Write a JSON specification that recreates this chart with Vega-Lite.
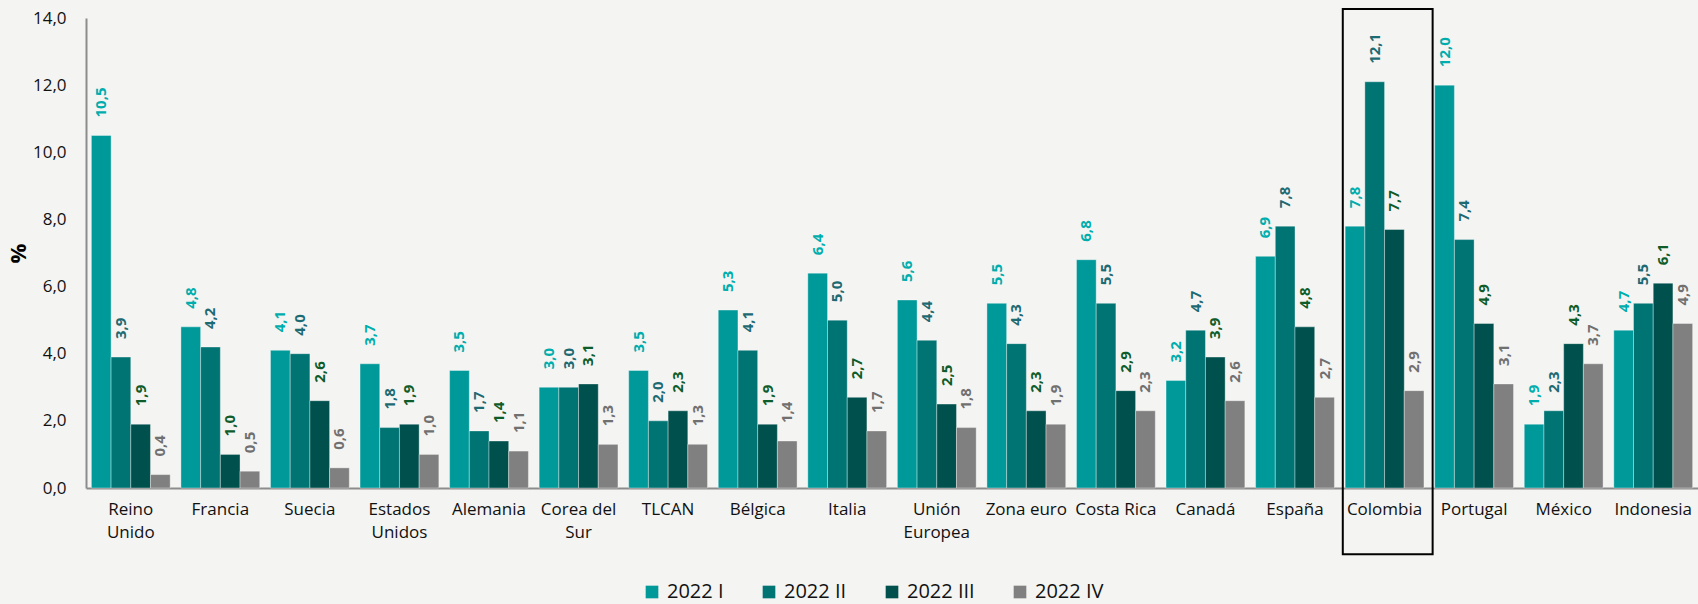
{
  "$schema": "https://vega.github.io/schema/vega-lite/v6.json",
  "width": 1612,
  "height": 470,
  "autosize": {"type": "none"},
  "padding": {"left": 86, "top": 18, "right": 0, "bottom": 116},
  "background": "#F4F4F2",
  "config": {
    "font": "Open Sans",
    "view": {"stroke": null},
    "locale": {"number": {"decimal": ",", "thousands": ".", "grouping": [3], "currency": ["$", ""]}}
  },
  "datasets": {
    "tasas": [
    {"pais": "Reino Unido", "periodo": "2022 I", "valor": 10.5},
    {"pais": "Reino Unido", "periodo": "2022 II", "valor": 3.9},
    {"pais": "Reino Unido", "periodo": "2022 III", "valor": 1.9},
    {"pais": "Reino Unido", "periodo": "2022 IV", "valor": 0.4},
    {"pais": "Francia", "periodo": "2022 I", "valor": 4.8},
    {"pais": "Francia", "periodo": "2022 II", "valor": 4.2},
    {"pais": "Francia", "periodo": "2022 III", "valor": 1.0},
    {"pais": "Francia", "periodo": "2022 IV", "valor": 0.5},
    {"pais": "Suecia", "periodo": "2022 I", "valor": 4.1},
    {"pais": "Suecia", "periodo": "2022 II", "valor": 4.0},
    {"pais": "Suecia", "periodo": "2022 III", "valor": 2.6},
    {"pais": "Suecia", "periodo": "2022 IV", "valor": 0.6},
    {"pais": "Estados Unidos", "periodo": "2022 I", "valor": 3.7},
    {"pais": "Estados Unidos", "periodo": "2022 II", "valor": 1.8},
    {"pais": "Estados Unidos", "periodo": "2022 III", "valor": 1.9},
    {"pais": "Estados Unidos", "periodo": "2022 IV", "valor": 1.0},
    {"pais": "Alemania", "periodo": "2022 I", "valor": 3.5},
    {"pais": "Alemania", "periodo": "2022 II", "valor": 1.7},
    {"pais": "Alemania", "periodo": "2022 III", "valor": 1.4},
    {"pais": "Alemania", "periodo": "2022 IV", "valor": 1.1},
    {"pais": "Corea del Sur", "periodo": "2022 I", "valor": 3.0},
    {"pais": "Corea del Sur", "periodo": "2022 II", "valor": 3.0},
    {"pais": "Corea del Sur", "periodo": "2022 III", "valor": 3.1},
    {"pais": "Corea del Sur", "periodo": "2022 IV", "valor": 1.3},
    {"pais": "TLCAN", "periodo": "2022 I", "valor": 3.5},
    {"pais": "TLCAN", "periodo": "2022 II", "valor": 2.0},
    {"pais": "TLCAN", "periodo": "2022 III", "valor": 2.3},
    {"pais": "TLCAN", "periodo": "2022 IV", "valor": 1.3},
    {"pais": "Bélgica", "periodo": "2022 I", "valor": 5.3},
    {"pais": "Bélgica", "periodo": "2022 II", "valor": 4.1},
    {"pais": "Bélgica", "periodo": "2022 III", "valor": 1.9},
    {"pais": "Bélgica", "periodo": "2022 IV", "valor": 1.4},
    {"pais": "Italia", "periodo": "2022 I", "valor": 6.4},
    {"pais": "Italia", "periodo": "2022 II", "valor": 5.0},
    {"pais": "Italia", "periodo": "2022 III", "valor": 2.7},
    {"pais": "Italia", "periodo": "2022 IV", "valor": 1.7},
    {"pais": "Unión Europea", "periodo": "2022 I", "valor": 5.6},
    {"pais": "Unión Europea", "periodo": "2022 II", "valor": 4.4},
    {"pais": "Unión Europea", "periodo": "2022 III", "valor": 2.5},
    {"pais": "Unión Europea", "periodo": "2022 IV", "valor": 1.8},
    {"pais": "Zona euro", "periodo": "2022 I", "valor": 5.5},
    {"pais": "Zona euro", "periodo": "2022 II", "valor": 4.3},
    {"pais": "Zona euro", "periodo": "2022 III", "valor": 2.3},
    {"pais": "Zona euro", "periodo": "2022 IV", "valor": 1.9},
    {"pais": "Costa Rica", "periodo": "2022 I", "valor": 6.8},
    {"pais": "Costa Rica", "periodo": "2022 II", "valor": 5.5},
    {"pais": "Costa Rica", "periodo": "2022 III", "valor": 2.9},
    {"pais": "Costa Rica", "periodo": "2022 IV", "valor": 2.3},
    {"pais": "Canadá", "periodo": "2022 I", "valor": 3.2},
    {"pais": "Canadá", "periodo": "2022 II", "valor": 4.7},
    {"pais": "Canadá", "periodo": "2022 III", "valor": 3.9},
    {"pais": "Canadá", "periodo": "2022 IV", "valor": 2.6},
    {"pais": "España", "periodo": "2022 I", "valor": 6.9},
    {"pais": "España", "periodo": "2022 II", "valor": 7.8},
    {"pais": "España", "periodo": "2022 III", "valor": 4.8},
    {"pais": "España", "periodo": "2022 IV", "valor": 2.7},
    {"pais": "Colombia", "periodo": "2022 I", "valor": 7.8},
    {"pais": "Colombia", "periodo": "2022 II", "valor": 12.1},
    {"pais": "Colombia", "periodo": "2022 III", "valor": 7.7},
    {"pais": "Colombia", "periodo": "2022 IV", "valor": 2.9},
    {"pais": "Portugal", "periodo": "2022 I", "valor": 12.0},
    {"pais": "Portugal", "periodo": "2022 II", "valor": 7.4},
    {"pais": "Portugal", "periodo": "2022 III", "valor": 4.9},
    {"pais": "Portugal", "periodo": "2022 IV", "valor": 3.1},
    {"pais": "México", "periodo": "2022 I", "valor": 1.9},
    {"pais": "México", "periodo": "2022 II", "valor": 2.3},
    {"pais": "México", "periodo": "2022 III", "valor": 4.3},
    {"pais": "México", "periodo": "2022 IV", "valor": 3.7},
    {"pais": "Indonesia", "periodo": "2022 I", "valor": 4.7},
    {"pais": "Indonesia", "periodo": "2022 II", "valor": 5.5},
    {"pais": "Indonesia", "periodo": "2022 III", "valor": 6.1},
    {"pais": "Indonesia", "periodo": "2022 IV", "valor": 4.9}
    ],
    "destacado": [{"pais": "Colombia", "arriba": 14.27, "abajo": -1.97}]
  },
  "layer": [
    {
      "data": {"name": "tasas"},
      "mark": {"type": "bar", "stroke": "#FFFFFF", "strokeWidth": 0.6, "strokeOpacity": 0.6},
      "encoding": {
        "x": {
          "field": "pais", "type": "nominal", "sort": null,
          "scale": {"paddingInner": 0.12, "paddingOuter": 0.06},
          "axis": {
            "title": null, "domainColor": "#8C8C8C", "domainWidth": 2, "ticks": false,
            "labelAngle": 0, "labelFontSize": 17, "labelColor": "#111111", "labelPadding": 13,
            "labelLineHeight": 23, "labelBaseline": "top",
            "labelExpr": "datum.value == 'Reino Unido' ? ['Reino', 'Unido'] : datum.value == 'Estados Unidos' ? ['Estados', 'Unidos'] : datum.value == 'Corea del Sur' ? ['Corea del', 'Sur'] : datum.value == 'Unión Europea' ? ['Unión', 'Europea'] : datum.value"
          }
        },
        "y": {
          "field": "valor", "type": "quantitative",
          "scale": {"domain": [0, 14], "nice": false},
          "axis": {
            "title": "%", "titleFontSize": 22, "titleFontWeight": "bold", "titleColor": "#000000",
            "titlePadding": 2, "values": [0, 2, 4, 6, 8, 10, 12, 14], "format": ".1f",
            "grid": false, "ticks": false, "domainColor": "#8C8C8C", "domainWidth": 2,
            "labelFontSize": 17, "labelColor": "#111111", "labelPadding": 20
          }
        },
        "xOffset": {"field": "periodo", "type": "nominal", "sort": ["2022 I", "2022 II", "2022 III", "2022 IV"]},
        "color": {
          "field": "periodo", "type": "nominal",
          "scale": {"domain": ["2022 I", "2022 II", "2022 III", "2022 IV"], "range": ["#009999", "#007373", "#00514D", "#808080"]},
          "legend": {
            "title": null, "orient": "none", "legendX": 556, "legendY": 564, "direction": "horizontal", "symbolType": "square",
            "symbolSize": 160, "symbolStrokeWidth": 0, "labelFontSize": 20, "labelColor": "#111111",
            "labelOffset": 5, "columnPadding": 35
          }
        }
      }
    },
    {
      "data": {"name": "tasas"},
      "mark": {"type": "text", "angle": -90, "align": "left", "baseline": "middle", "dx": 18, "fontSize": 15, "fontWeight": "bold"},
      "encoding": {
        "x": {"field": "pais", "type": "nominal", "sort": null},
        "y": {"field": "valor", "type": "quantitative"},
        "xOffset": {"field": "periodo", "type": "nominal", "sort": ["2022 I", "2022 II", "2022 III", "2022 IV"]},
        "text": {"field": "valor", "type": "quantitative", "format": ".1f"},
        "fill": {
          "field": "periodo", "type": "nominal",
          "scale": {"domain": ["2022 I", "2022 II", "2022 III", "2022 IV"], "range": ["#00ADAD", "#1D6A73", "#0E5C2A", "#707070"]},
          "legend": null
        }
      }
    },
    {
      "data": {"name": "destacado"},
      "mark": {"type": "rect", "fill": "transparent", "stroke": "#000000", "strokeWidth": 2, "clip": false},
      "encoding": {
        "x": {"field": "pais", "type": "nominal", "sort": null, "bandPosition": -0.03},
        "x2": {"field": "pais", "bandPosition": 1.11},
        "y": {"field": "arriba", "type": "quantitative"},
        "y2": {"field": "abajo"}
      }
    }
  ]
}
